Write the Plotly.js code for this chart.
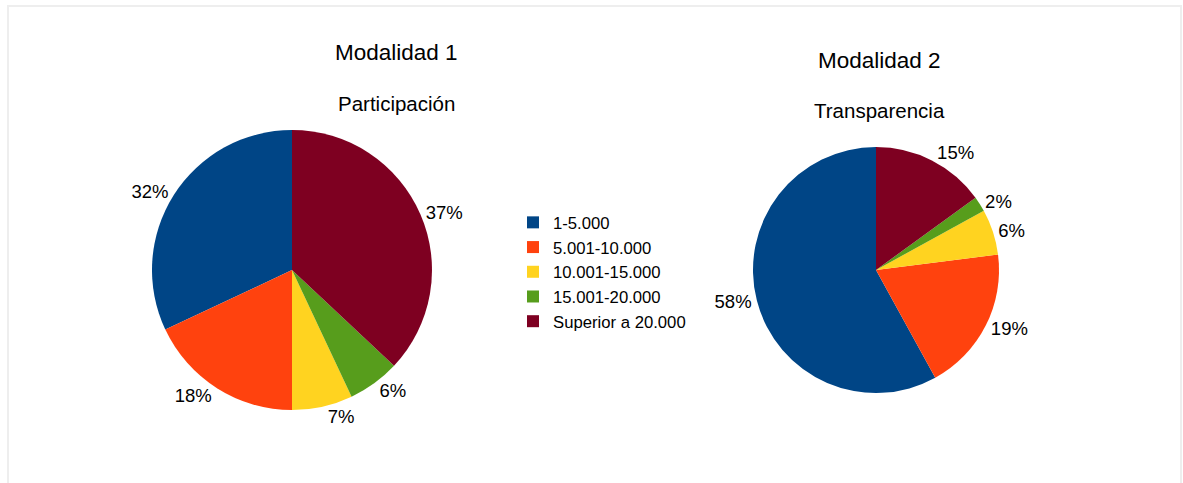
<!DOCTYPE html>
<html>
<head>
<meta charset="utf-8">
<script src="https://cdn.plot.ly/plotly-3.0.1.min.js"></script>
<style>
  html, body { margin: 0; padding: 0; background: #ffffff; }
  #chart { width: 1183px; height: 483px; }
</style>
</head>
<body>
<div id="chart"></div>
<script>
// Data
const categories = ["1-5.000", "5.001-10.000", "10.001-15.000", "15.001-20.000", "Superior a 20.000"];
const modalidad1Values = [32, 18, 7, 6, 37];   // Participación
const modalidad2Values = [58, 19, 6, 2, 15];   // Transparencia
const sliceColors = ["#004586", "#ff420e", "#ffd320", "#579d1c", "#7e0021"];
const chartTitles = ["Modalidad 1", "Modalidad 2"];
const chartSubtitles = ["Participación", "Transparencia"];

const W = 1183, H = 483;
function px(x) { return x / W; }
function py(y) { return 1 - y / H; }
function sum(a) { return a.reduce((s, v) => s + v, 0); }
// First slice ends at 12 o'clock, the others follow counterclockwise
function firstSliceRotation(vals) { return -360 * vals[0] / sum(vals); }

const common = {
  type: "pie",
  labels: categories,
  sort: false,
  direction: "counterclockwise",
  textinfo: "percent",
  textposition: "outside",
  texttemplate: "%{percent:.0%}",
  outsidetextfont: { family: "Liberation Sans, Arial, sans-serif", size: 18.5, color: "#000000" },
  marker: { colors: sliceColors, line: { width: 0 } },
  hoverinfo: "label+percent",
  automargin: false
};

const trace1 = Object.assign({}, common, {
  values: modalidad1Values,
  rotation: firstSliceRotation(modalidad1Values),
  name: chartSubtitles[0],
  domain: { x: [px(152), px(432)], y: [py(410), py(130)] }
});
const trace2 = Object.assign({}, common, {
  values: modalidad2Values,
  rotation: firstSliceRotation(modalidad2Values),
  name: chartSubtitles[1],
  domain: { x: [px(753), px(999)], y: [py(393), py(147)] }
});

function title(text, x, y, size) {
  return { text: text, x: px(x), y: py(y), xref: "paper", yref: "paper",
           xanchor: "center", yanchor: "middle", showarrow: false, font: { size: size } };
}

const layout = {
  width: W,
  height: H,
  margin: { l: 0, r: 0, t: 0, b: 0 },
  paper_bgcolor: "#ffffff",
  font: { family: "Liberation Sans, Arial, sans-serif", color: "#000000" },
  showlegend: true,
  legend: {
    x: px(513), xanchor: "left",
    y: py(272), yanchor: "middle",
    font: { size: 16.7, color: "#000000" },
    bgcolor: "rgba(0,0,0,0)",
    traceorder: "normal"
  },
  annotations: [
    title(chartTitles[0], 396, 52, 22.5),
    title(chartSubtitles[0], 396, 103, 20.5),
    title(chartTitles[1], 880, 60, 22.5),
    title(chartSubtitles[1], 880, 110, 20.5)
  ],
  shapes: [
    { type: "rect", xref: "paper", yref: "paper", x0: px(8), x1: px(1181), y0: -0.05, y1: py(6),
      line: { color: "#eeeeee", width: 2 }, fillcolor: "rgba(0,0,0,0)", layer: "below" }
  ]
};

Plotly.newPlot("chart", [trace1, trace2], layout, { displayModeBar: false, staticPlot: true });
</script>
</body>
</html>
